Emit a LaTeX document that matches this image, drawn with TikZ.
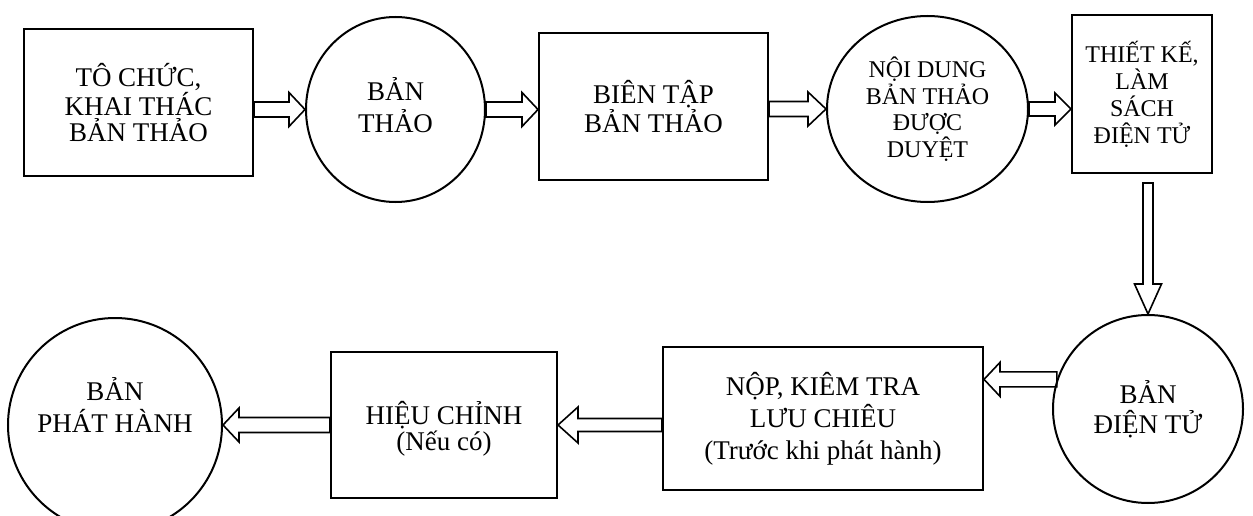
\documentclass[tikz,border=0pt]{standalone}
\usepackage{fontspec}
\setmainfont{Liberation Serif}
\usetikzlibrary{calc,shapes.geometric}

\begin{document}
\begin{tikzpicture}[
  x=1pt, y=1pt,
  stepbox/.style={draw, line width=2pt, rectangle, align=center, inner sep=0pt, font=\fontsize{27}{26}\selectfont},
  blob/.style={draw, line width=2pt, ellipse, align=center, inner sep=0pt, font=\fontsize{27}{26}\selectfont},
  blockarrow/.style n args={3}{line width=1.6pt, to path={
      coordinate (ahbase) at ($(\tikztotarget)!#3!(\tikztostart)$)
      ($(\tikztostart)!#1!90:(\tikztotarget)$) -- ($(ahbase)!#1!90:(\tikztotarget)$)
      -- ($(ahbase)!#2!90:(\tikztotarget)$) -- (\tikztotarget)
      -- ($(ahbase)!#2!-90:(\tikztotarget)$) -- ($(ahbase)!#1!-90:(\tikztotarget)$)
      -- ($(\tikztostart)!#1!-90:(\tikztotarget)$) -- cycle}},
  harrow/.style={blockarrow={7.5pt}{17pt}{16pt}},
  varrow/.style={blockarrow={5pt}{13.5pt}{30pt}}
]
\useasboundingbox (0,0) rectangle (1253,515);

% === Top row ===
\node[stepbox, minimum width=229pt, minimum height=147pt] (collect) at (138.5,412.5) {TÔ CHỨC,\\KHAI THÁC\\BẢN THẢO};
\node[blob, minimum width=179pt, minimum height=185pt] (draft) at (395.5,405.5) {};
\node[align=center, font=\fontsize{27}{32}\selectfont] (drafttext) at ([yshift=4pt]draft.center) {BẢN\\THẢO};
\node[stepbox, minimum width=229pt, minimum height=147pt] (edit) at (653.5,408.5) {BIÊN TẬP\\BẢN THẢO};
\node[blob, minimum width=201pt, minimum height=186pt, font=\fontsize{24}{26.5}\selectfont] (approved) at (927.5,406) {NỘI DUNG\\BẢN THẢO\\ĐƯỢC\\DUYỆT};
\node[stepbox, minimum width=140pt, minimum height=158pt, font=\fontsize{24}{27}\selectfont] (design) at (1142,421) {THIẾT KẾ,\\LÀM\\SÁCH\\ĐIỆN TỬ};

% === Bottom row ===
\node[blob, minimum width=190pt, minimum height=188pt, font=\fontsize{27}{30}\selectfont] (ebook) at (1148,106) {BẢN\\ĐIỆN TỬ};
\node[stepbox, minimum width=320pt, minimum height=143pt, font=\fontsize{27}{32}\selectfont] (deposit) at (823,96.5) {NỘP, KIÊM TRA\\LƯU CHIÊU\\(Trước khi phát hành)};
\node[stepbox, minimum width=226pt, minimum height=146pt] (revise) at (444,90) {};
\node[align=center, font=\fontsize{27}{26}\selectfont] (revisetext) at ([yshift=-4pt]revise.center) {HIỆU CHỈNH\\(Nếu có)};
\node[blob, minimum width=214pt, minimum height=214pt] (release) at (115,90) {};
\node[align=center, font=\fontsize{27}{32}\selectfont] (releasetext) at ([yshift=20pt]release.center) {BẢN\\PHÁT HÀNH};

% === Arrows ===
\draw[harrow] (collect.east |- draft.west) to (draft.west);
\draw[harrow] (draft.east) to (edit.west |- draft.east);
\draw[blockarrow={7.5pt}{17pt}{18pt}] (edit.east |- approved.west) to (approved.west);
\draw[blockarrow={7pt}{16pt}{16pt}] (approved.east) to (design.west |- approved.east);
\coordinate (vtop) at ([yshift=-9pt]ebook.north |- design.south);
\draw[varrow] (vtop) to (ebook.north);
\draw[harrow] (ebook.162) to (deposit.east |- ebook.162);
\draw[blockarrow={6.5pt}{18pt}{20pt}] (deposit.west |- revise.east) to (revise.east);
\draw[harrow] (revise.west |- release.east) to (release.east);

\end{tikzpicture}
\end{document}
